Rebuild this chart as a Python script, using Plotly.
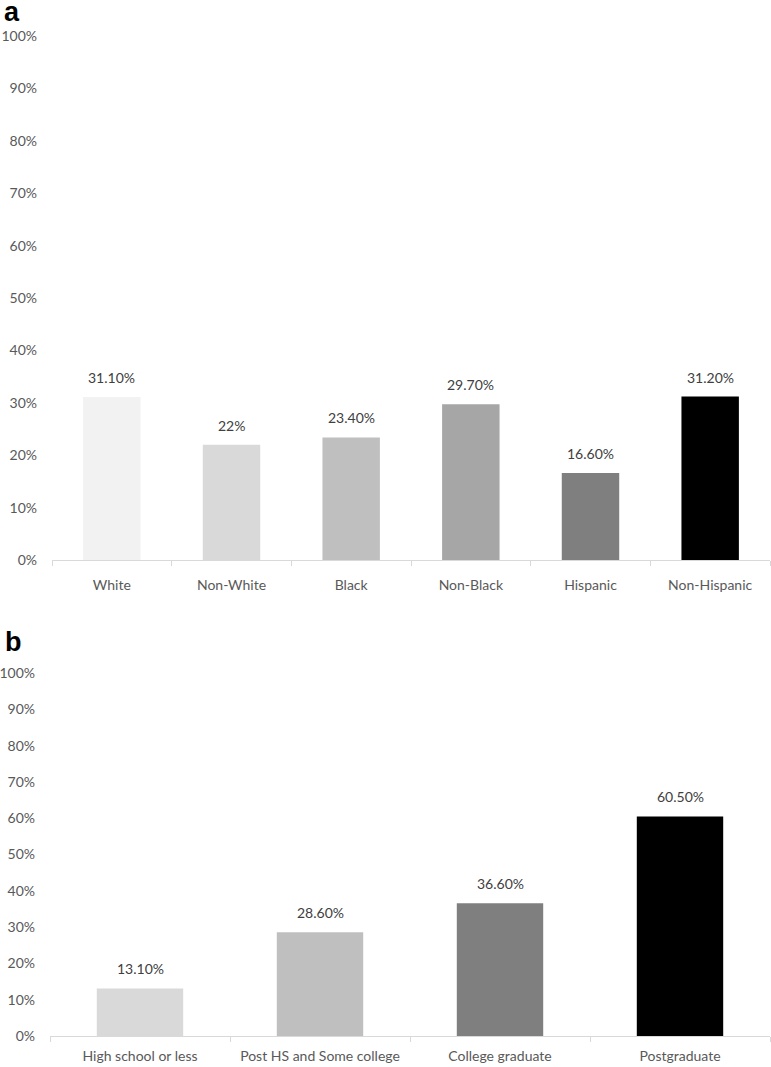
import plotly.graph_objects as go

# Panel a data
cats_a = ["White", "Non-White", "Black", "Non-Black", "Hispanic", "Non-Hispanic"]
vals_a = [0.311, 0.22, 0.234, 0.297, 0.166, 0.312]
labels_a = ["31.10%", "22%", "23.40%", "29.70%", "16.60%", "31.20%"]
colors_a = ["#f2f2f2", "#d9d9d9", "#bfbfbf", "#a6a6a6", "#7f7f7f", "#000000"]

# Panel b data
cats_b = ["High school or less", "Post HS and Some college", "College graduate", "Postgraduate"]
vals_b = [0.131, 0.286, 0.366, 0.605]
labels_b = ["13.10%", "28.60%", "36.60%", "60.50%"]
colors_b = ["#d9d9d9", "#bfbfbf", "#7f7f7f", "#000000"]

FONT = "Lato"
W, H = 771, 1067

fig = go.Figure()
fig.add_trace(go.Bar(x=cats_a, y=vals_a, marker=dict(color=colors_a, line=dict(width=0)),
                     width=0.48, xaxis="x", yaxis="y", showlegend=False, hoverinfo="skip"))
fig.add_trace(go.Bar(x=cats_b, y=vals_b, marker=dict(color=colors_b, line=dict(width=0)),
                     width=0.48, xaxis="x2", yaxis="y2", showlegend=False, hoverinfo="skip"))

annotations = []
for c, v, t in zip(cats_a, vals_a, labels_a):
    annotations.append(dict(x=c, y=v, xref="x", yref="y", text=t, showarrow=False,
                            yanchor="bottom", yshift=9,
                            font=dict(family=FONT, size=14, color="#404040")))
for c, v, t in zip(cats_b, vals_b, labels_b):
    annotations.append(dict(x=c, y=v, xref="x2", yref="y2", text=t, showarrow=False,
                            yanchor="bottom", yshift=9,
                            font=dict(family=FONT, size=14, color="#404040")))
annotations.append(dict(x=0.003, y=1 - 12 / H, xref="paper", yref="paper", text="<b>a</b>",
                        showarrow=False, xanchor="left", yanchor="middle",
                        font=dict(family="Liberation Sans", size=27, color="#000000")))
annotations.append(dict(x=0.004, y=1 - 642 / H, xref="paper", yref="paper", text="<b>b</b>",
                        showarrow=False, xanchor="left", yanchor="middle",
                        font=dict(family="Liberation Sans", size=27, color="#000000")))

xaxis_common = dict(type="category", showline=True, linecolor="#d9d9d9", linewidth=1,
                    ticks="outside", tickson="boundaries", ticklen=5, tickcolor="#d9d9d9",
                    showgrid=False, zeroline=False, fixedrange=True, automargin=False,
                    tickfont=dict(family=FONT, size=14, color="#595959"))
yaxis_common = dict(range=[0, 1], dtick=0.1, tickformat=".0%", showgrid=False, zeroline=False,
                    showline=False, ticks="", ticklabelstandoff=14, fixedrange=True,
                    automargin=False,
                    tickfont=dict(family=FONT, size=14, color="#595959"))

fig.update_layout(
    width=W, height=H,
    margin=dict(l=0, r=0, t=0, b=0, autoexpand=False),
    paper_bgcolor="white", plot_bgcolor="white",
    bargap=0.52,
    xaxis=dict(domain=[52 / W, 770 / W], anchor="y", ticklabelstandoff=12, **xaxis_common),
    yaxis=dict(domain=[(H - 560) / H, (H - 36) / H], anchor="x", **yaxis_common),
    xaxis2=dict(domain=[50 / W, 770 / W], anchor="y2", ticklabelstandoff=7, **xaxis_common),
    yaxis2=dict(domain=[(H - 1036) / H, (H - 673) / H], anchor="x2", **yaxis_common),
    annotations=annotations,
)

fig.write_html("out.html", config={"displayModeBar": False},
               post_script="document.body.style.margin='0';document.body.style.overflow='hidden';")
